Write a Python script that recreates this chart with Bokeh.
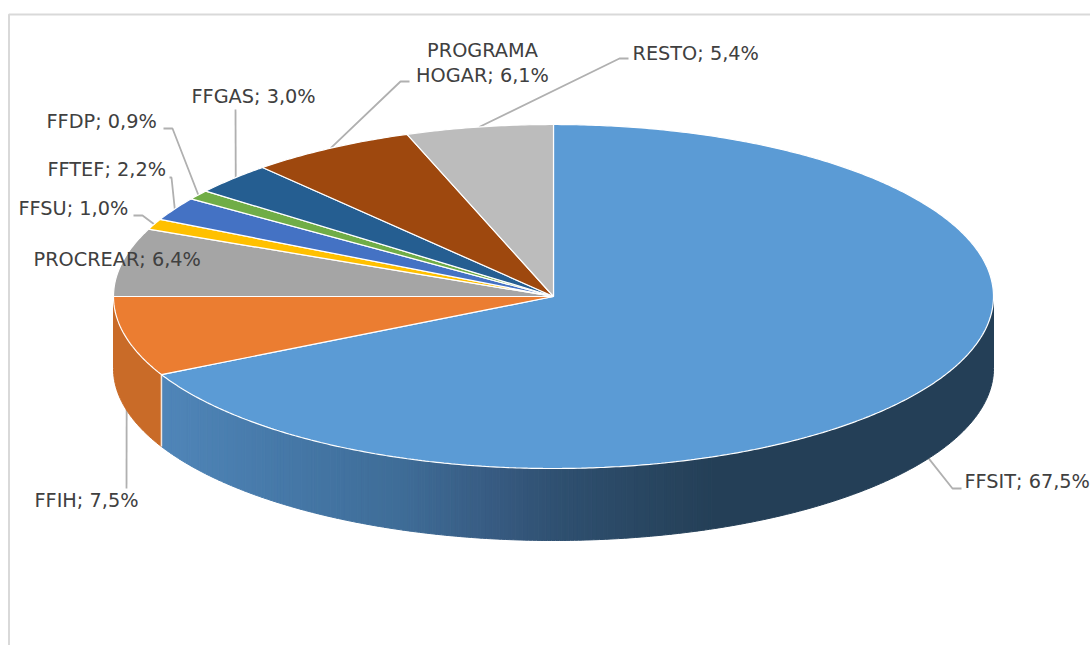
import numpy as np
from bokeh.embed import file_html
from bokeh.resources import INLINE
from bokeh.plotting import figure
from bokeh.core.properties import value

# ---- data, clockwise from the top of the pie
categories = ["FFSIT", "FFIH", "PROCREAR", "FFSU", "FFTEF", "FFDP", "FFGAS", "PROGRAMA HOGAR", "RESTO"]
shares = [67.5, 7.5, 6.4, 1.0, 2.2, 0.9, 3.0, 6.1, 5.4]
tick_labels = ["FFSIT; 67,5%", "FFIH; 7,5%", "PROCREAR; 6,4%", "FFSU; 1,0%", "FFTEF; 2,2%",
               "FFDP; 0,9%", "FFGAS; 3,0%", "PROGRAMA\nHOGAR; 6,1%", "RESTO; 5,4%"]
top_colors = ["#5b9bd5", "#eb7d31", "#a5a5a5", "#ffc000", "#4472c4", "#70ad47", "#255e91", "#9e480e", "#bcbcbc"]

# ---- layout (reference pixels)
W, H = 1090, 645
CX, CY, RX, RY, DEPTH = 553, 296, 440, 172, 72
label_x = [964, 34, 33, 18, 47, 46, 191, 482, 632]
label_y = [481, 500, 259, 208, 169, 121, 96, 0, 53]
label_align = ["left", "left", "left", "left", "left", "left", "left", "center", "left"]
elbow_x = [[961, 952], [126, 126], None, [133, 142], [169, 171], [163, 172], [235, 235], [409, 400], [628, 619]]
elbow_y = [[488, 488], [488, 488], None, [215, 215], [177, 177], [128, 128], [109, 109], [81, 81], [58, 58]]
anchor_on_side = [True, True, False, False, False, False, False, False, False]
anchor_dx = [0, 1, 0, 0, 0, 0, 3, 0, 0]

side_x = [161, 300, 400, 500, 560, 680, 720, 1000]
side_r = [80, 69, 63, 55, 47, 39, 36, 36]
side_g = [134, 119, 109, 90, 80, 67, 63, 63]
side_b = [185, 166, 152, 128, 112, 92, 87, 87]

def ex(t):
    return CX + RX * np.sin(np.radians(t))

def ey(t):
    return CY - RY * np.cos(np.radians(t))

def side_color(i, xm):
    if categories[i] != "FFSIT":
        return "#c96b28"
    return "#%02x%02x%02x" % (int(np.interp(xm, side_x, side_r)),
                              int(np.interp(xm, side_x, side_g)),
                              int(np.interp(xm, side_x, side_b)))

edges = np.concatenate([[0.0], np.cumsum(shares)]) * 3.6

p = figure(width=W, height=H, x_range=(0, W), y_range=(H, 0), toolbar_location=None,
           output_backend="svg", min_border=0, outline_line_color=None, background_fill_color="white")
p.axis.visible = False
p.grid.visible = False

# frame
p.line([8.5, 8.5, W], [H, 14, 14], line_color="#d9d9d9", line_width=2)

# leader lines
for i, ex_pts in enumerate(elbow_x):
    if ex_pts is None:
        continue
    mid = (edges[i] + edges[i + 1]) / 2
    ax = float(ex(mid)) + anchor_dx[i]
    ay = float(ey(mid)) + (DEPTH if anchor_on_side[i] else 0)
    p.line(ex_pts + [ax], elbow_y[i] + [ay], line_color="#b0b0b0", line_width=1.8)

# side wall, in narrow strips so it can carry the horizontal shading;
# neighbouring strips of one colour are merged into a single shape
for i in range(len(shares)):
    a, b = max(edges[i], 90.0), min(edges[i + 1], 270.0)
    if b <= a:
        continue
    n = int(max(4, (b - a) / 0.5))
    ts = np.linspace(a, b, n + 1)
    runs = []
    for t0, t1 in zip(ts[:-1], ts[1:]):
        c = side_color(i, float(ex((t0 + t1) / 2)))
        if runs and runs[-1][2] == c:
            runs[-1][1] = t1
        else:
            runs.append([t0, t1, c])
    xs, ys, cols = [], [], []
    for t0, t1, c in runs:
        arc = np.linspace(t0, t1, max(3, int((t1 - t0) * 2) + 1))
        xs.append(np.concatenate([ex(arc), ex(arc[::-1])]))
        ys.append(np.concatenate([ey(arc), ey(arc[::-1]) + DEPTH]))
        cols.append(c)
    p.patches(xs, ys, fill_color=cols, line_color=cols, line_width=1)

# seam between the two visible walls
seam = edges[1]
p.line([float(ex(seam))] * 2, [float(ey(seam)), float(ey(seam)) + DEPTH], line_color="#f3e6dc", line_width=1.5)

# top face
for i in range(len(shares)):
    ts = np.linspace(edges[i], edges[i + 1], max(6, int((edges[i + 1] - edges[i]) * 2)))
    xs = np.concatenate([[CX], ex(ts)])
    ys = np.concatenate([[CY], ey(ts)])
    p.patch(xs, ys, fill_color=top_colors[i], line_color="white", line_width=1.2)

# labels
for i, lab in enumerate(tick_labels):
    lines = lab.split("\n")
    if len(lines) == 2:
        ys = [50, 75]
    else:
        ys = [label_y[i]]
    p.text([label_x[i]] * len(lines), ys, text=lines, text_font=value("DejaVu Sans"),
           text_font_size="19.3px", text_color="#404040", text_align=label_align[i], text_baseline="middle")

open("out.html", "w").write(file_html(p, INLINE))
